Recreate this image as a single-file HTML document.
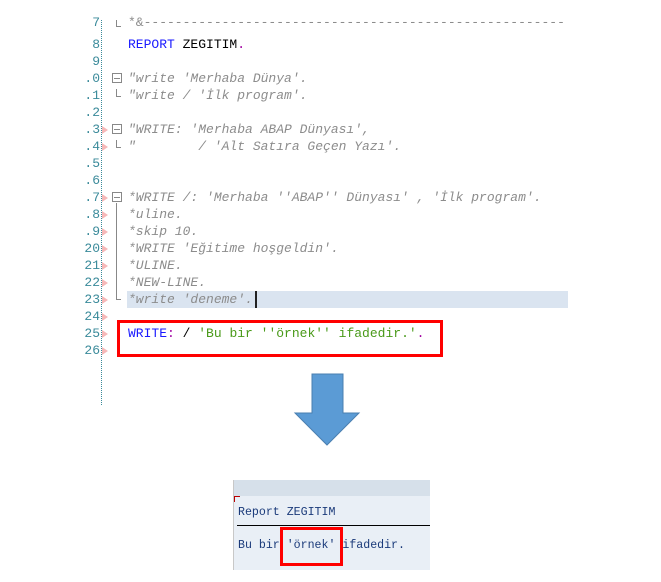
<!DOCTYPE html>
<html><head><meta charset="utf-8"><style>
body{margin:0;width:661px;height:582px;background:#fff;position:relative;overflow:hidden;font-family:"Liberation Mono",monospace;}
.a{position:absolute;white-space:pre;}
.ln{position:absolute;left:60px;width:40px;text-align:right;font-size:13px;line-height:17px;color:#3a8a9a;font-family:"Liberation Mono",monospace;white-space:pre;}
.c{position:absolute;left:128px;font-size:13px;line-height:17px;white-space:pre;}
.cm{color:#8c8c8c;font-style:italic;}
.mk{position:absolute;left:102px;width:0;height:0;border-top:4px solid transparent;border-bottom:4px solid transparent;border-left:6px solid #f6b8b8;}
.fb{position:absolute;left:112px;width:8px;height:8px;border:1px solid #888;background:#fff;}
.fb:after{content:"";position:absolute;left:1px;top:3.5px;width:6px;height:1px;background:#888;}
</style></head><body>
<div style="position:absolute;left:101px;top:20px;height:385px;border-left:1px dotted #3a8a9a;"></div>
<div style="position:absolute;left:127px;top:291px;width:441px;height:17px;background:#dae4f0;"></div>
<div class="ln" style="top:14px">7</div>
<div class="ln" style="top:36px">8</div>
<div class="ln" style="top:53px">9</div>
<div class="ln" style="top:70px">.0</div>
<div class="ln" style="top:87px">.1</div>
<div class="ln" style="top:104px">.2</div>
<div class="ln" style="top:121px">.3</div>
<div class="ln" style="top:138px">.4</div>
<div class="ln" style="top:155px">.5</div>
<div class="ln" style="top:172px">.6</div>
<div class="ln" style="top:189px">.7</div>
<div class="ln" style="top:206px">.8</div>
<div class="ln" style="top:223px">.9</div>
<div class="ln" style="top:240px">20</div>
<div class="ln" style="top:257px">21</div>
<div class="ln" style="top:274px">22</div>
<div class="ln" style="top:291px">23</div>
<div class="ln" style="top:308px">24</div>
<div class="ln" style="top:325px">25</div>
<div class="ln" style="top:342px">26</div>
<div class="mk" style="top:126px"></div><div class="mk" style="top:143px"></div>
<div class="mk" style="top:194px"></div><div class="mk" style="top:211px"></div><div class="mk" style="top:228px"></div><div class="mk" style="top:245px"></div><div class="mk" style="top:262px"></div><div class="mk" style="top:279px"></div><div class="mk" style="top:296px"></div><div class="mk" style="top:313px"></div><div class="mk" style="top:330px"></div><div class="mk" style="top:347px"></div>
<div class="fb" style="top:73px"></div><div class="fb" style="top:124px"></div><div class="fb" style="top:192px"></div>
<div style="position:absolute;left:116px;top:20px;width:4px;height:6px;border-left:1px solid #888;border-bottom:1px solid #888"></div>
<div style="position:absolute;left:116px;top:89px;width:4px;height:7px;border-left:1px solid #888;border-bottom:1px solid #888"></div>
<div style="position:absolute;left:116px;top:140px;width:4px;height:7px;border-left:1px solid #888;border-bottom:1px solid #888"></div>
<div style="position:absolute;left:116px;top:203px;width:4px;height:96px;border-left:1px solid #888;border-bottom:1px solid #888"></div>
<div class="c" style="top:14px;color:#8c8c8c">*&amp;------------------------------------------------------</div>
<div class="c" style="top:36px"><span style="color:#1a1aff">REPORT</span> <span style="color:#000">ZEGITIM</span><span style="color:#a000a0">.</span></div>
<div class="c cm" style="top:70px">"write 'Merhaba Dünya'.</div>
<div class="c cm" style="top:87px">"write / 'İlk program'.</div>
<div class="c cm" style="top:121px">"WRITE: 'Merhaba ABAP Dünyası',</div>
<div class="c cm" style="top:138px">"        / 'Alt Satıra Geçen Yazı'.</div>
<div class="c cm" style="top:189px">*WRITE /: 'Merhaba ''ABAP'' Dünyası' , 'İlk program'.</div>
<div class="c cm" style="top:206px">*uline.</div>
<div class="c cm" style="top:223px">*skip 10.</div>
<div class="c cm" style="top:240px">*WRITE 'Eğitime hoşgeldin'.</div>
<div class="c cm" style="top:257px">*ULINE.</div>
<div class="c cm" style="top:274px">*NEW-LINE.</div>
<div class="c cm" style="top:291px">*write 'deneme'.</div>
<div style="position:absolute;left:255px;top:291px;width:2px;height:17px;background:#222"></div>
<div class="c" style="top:325px"><span style="color:#1a1aff">WRITE</span><span style="color:#a000a0">:</span> / <span style="color:#4a9a1a">'Bu bir ''örnek'' ifadedir.'</span><span style="color:#a000a0">.</span></div>
<div style="position:absolute;left:117px;top:320px;width:320px;height:31px;border:3px solid #f00;"></div>
<svg style="position:absolute;left:0;top:0" width="661" height="582"><polygon points="312,374 343,374 343,413 359,413 327,445 295,413 312,413" fill="#5b9bd5" stroke="#4a7fb0" stroke-width="1"/></svg>
<div style="position:absolute;left:233px;top:480px;width:197px;height:16px;background:#d6e0ea;"></div>
<div style="position:absolute;left:233px;top:496px;width:197px;height:74px;background:#e9eff6;"></div>
<div style="position:absolute;left:233px;top:480px;width:1px;height:90px;background:#c8c8c8;"></div>
<div style="position:absolute;left:234px;top:496px;width:5px;height:5px;border-left:1px solid #b00;border-top:1px solid #b00;"></div>
<div class="a" style="left:238px;top:505px;font-size:11.6px;line-height:16px;color:#1a3a7a">Report ZEGITIM</div>
<div style="position:absolute;left:237px;top:525px;width:193px;height:1px;background:#000;"></div>
<div class="a" style="left:238px;top:538px;font-size:11.6px;line-height:16px;color:#1a3a7a">Bu bir 'örnek' ifadedir.</div>
<div style="position:absolute;left:280px;top:527px;width:57px;height:33px;border:3px solid #f00;"></div>
</body></html>
